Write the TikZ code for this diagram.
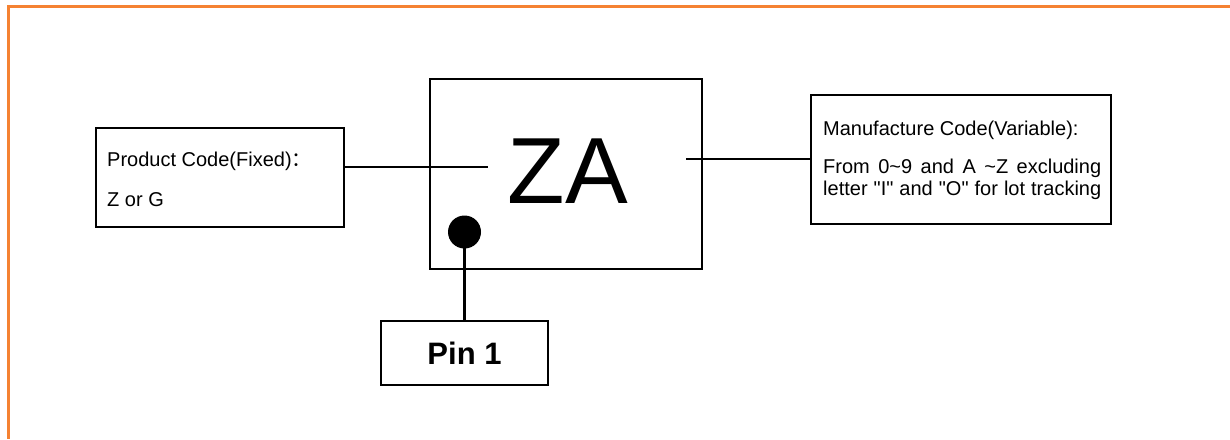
\documentclass[tikz,border=0pt]{standalone}
\usepackage{fontspec}
\setmainfont{Liberation Sans}
\newfontfamily\qfont{Liberation Sans}[Ligatures=TeXOff]
\newfontfamily\cjkfont{Noto Sans CJK SC}
\definecolor{frameorange}{RGB}{245,130,50}
\newcommand{\sq}{{\qfont"}}
\tikzset{
  boxstyle/.style={draw=black, line width=2.2pt, inner sep=0pt, fill=none},
  txt/.style={inner sep=0pt, anchor=base west, font=\fontsize{20}{24}\selectfont},
  wire/.style={draw=black, line width=2.2pt},
  frameline/.style={draw=frameorange, line width=3pt}
}
\begin{document}
\begin{tikzpicture}[x=1pt,y=-1pt]
\useasboundingbox (0,0) rectangle (1230,439);
% orange frame (top and left)
\coordinate (fa) at (7,6.5);
\coordinate (fb) at (1230,6.5);
\coordinate (fc) at (8.5,5);
\coordinate (fd) at (8.5,439);
\draw[frameline] (fa) -- (fb);
\draw[frameline] (fc) -- (fd);
% main box
\node[boxstyle, minimum width=272pt, minimum height=190pt] (main) at (566,174) {};
\node[inner sep=0pt, anchor=base, font=\fontsize{94}{100}\selectfont] (za) at (568,203) {ZA};
% left box
\node[boxstyle, minimum width=248pt, minimum height=99pt] (leftbox) at (220,177.5) {};
\node[txt] (lt1) at (107,166) {Product Code(Fixed){\cjkfont ：}};
\node[txt] (lt2) at (107,206) {Z or G};
% right box
\node[boxstyle, minimum width=300pt, minimum height=129pt] (rightbox) at (961,159.5) {};
\node[txt] (rt1) at (823,135) {Manufacture Code(Variable):};
\node[txt] (rt2) at (823,173) {\makebox[278pt][s]{From 0\textasciitilde9 and A \textasciitilde Z excluding}};
\node[txt] (rt3) at (823,195) {\makebox[278pt][s]{letter \sq I\sq{} and \sq O\sq{} for lot tracking}};
% pin 1
\node[boxstyle, minimum width=167pt, minimum height=64pt, font=\bfseries\fontsize{31}{36}\selectfont] (pin) at (464.5,353) {Pin 1};
\node[circle, fill=black, minimum size=33pt, inner sep=0pt] (dot) at (464.5,232) {};
% connectors
\coordinate (lend) at (488,167);
\coordinate (rstart) at (686,159);
\draw[wire] (leftbox.east |- lend) -- (lend);
\draw[wire] (rstart) -- (rightbox.west |- rstart);
\draw[wire] (dot.center) -- (pin.north);
\end{tikzpicture}
\end{document}
